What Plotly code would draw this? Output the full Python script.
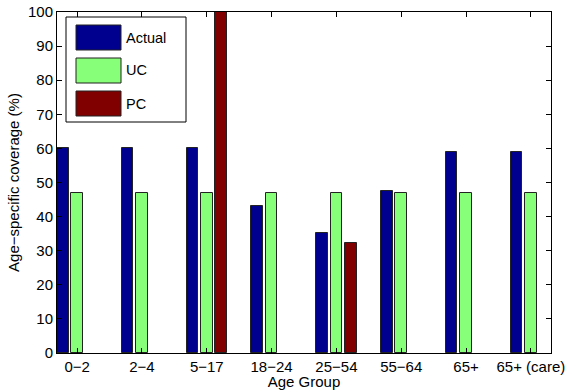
import plotly.graph_objects as go

# Age groups and coverage (%) for each scenario
age_groups = ["0\u22122", "2\u22124", "5\u221217", "18\u221224", "25\u221254",
              "55\u221264", "65+", "65+ (care)"]
actual = [60, 60, 60, 43, 35.2, 47.5, 59, 59]
uc = [47, 47, 47, 47, 47, 47, 47, 47]
pc = [0, 0, 100, 0, 32.2, 0, 0, 0]

series_names = ["Actual", "UC", "PC"]
series_colors = ["#00008F", "#88FF78", "#800000"]
series_values = [actual, uc, pc]

FONT = "Liberation Sans, Arial, Helvetica, sans-serif"

# grouped bar geometry (numeric x so the groups sit at 1..8)
group_offset = 0.2222
bar_width = 0.178
x_centers = list(range(1, len(age_groups) + 1))

fig = go.Figure()
for k, (name, color, vals) in enumerate(zip(series_names, series_colors, series_values)):
    off = (k - 1) * group_offset
    fig.add_trace(go.Bar(
        x=[c + off for c in x_centers],
        y=vals,
        width=bar_width,
        name=name,
        marker=dict(color=color,
                    line=dict(color="#222222",
                              width=[1 if v > 0 else 0 for v in vals])),
        showlegend=False,
    ))

axis_common = dict(
    showline=True, linecolor="black", linewidth=1, mirror="ticks",
    ticks="inside", ticklen=5, tickcolor="black", showgrid=False,
    zeroline=False, automargin=False,
    tickfont=dict(family=FONT, size=15, color="black"),
)

fig.update_layout(
    width=566, height=390,
    margin=dict(l=57, r=15, t=12, b=37),
    paper_bgcolor="white", plot_bgcolor="white",
    bargap=0, barmode="overlay",
    font=dict(family=FONT, color="black"),
    xaxis=dict(
        range=[0.689, 8.311], tickmode="array", tickvals=x_centers,
        ticktext=age_groups,
        title=dict(text="Age Group", font=dict(family=FONT, size=15), standoff=0),
        **axis_common,
    ),
    yaxis=dict(
        range=[0, 100], tickmode="linear", dtick=10, tick0=0,
        title=dict(text="Age\u2212specific coverage (%)", font=dict(family=FONT, size=15), standoff=4),
        **axis_common,
    ),
)

# legend box with large colour swatches
def px_to_paper_x(px):
    return (px - 57) / (551 - 57)

def px_to_paper_y(py):
    return (353 - py) / (353 - 12)

shapes = [dict(type="rect", xref="paper", yref="paper",
               x0=px_to_paper_x(66), x1=px_to_paper_x(186),
               y0=px_to_paper_y(122), y1=px_to_paper_y(17),
               line=dict(color="black", width=1), fillcolor="white", layer="above")]
annotations = []
for i, (name, color) in enumerate(zip(series_names, series_colors)):
    top = 25 + i * 33
    shapes.append(dict(type="rect", xref="paper", yref="paper",
                       x0=px_to_paper_x(76), x1=px_to_paper_x(121),
                       y0=px_to_paper_y(top + 25), y1=px_to_paper_y(top),
                       line=dict(color="#222222", width=1), fillcolor=color, layer="above"))
    annotations.append(dict(xref="paper", yref="paper",
                            x=px_to_paper_x(124), y=px_to_paper_y(top + 12.5),
                            text=name, showarrow=False, xanchor="left", yanchor="middle",
                            font=dict(family=FONT, size=14.5, color="black")))

fig.update_layout(shapes=shapes, annotations=annotations)
fig.write_html("out.html")
